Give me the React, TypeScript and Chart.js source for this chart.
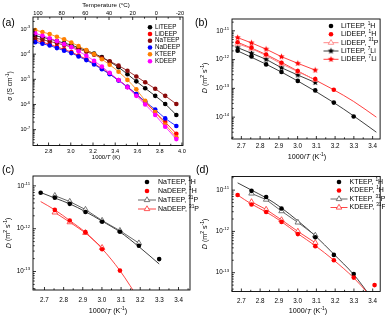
import React, { useEffect, useRef } from "react";
import { Chart, registerables } from "chart.js";

Chart.register(...registerables);

const W = 385;
const H = 319;
const FF = '"Liberation Sans", Arial, Helvetica, sans-serif';

// ---------------- Panel (a): conductivity vs 1000/T ----------------
const aInvT = [2.68, 2.745, 2.81, 2.875, 2.94, 3.005, 3.07, 3.14, 3.21, 3.28, 3.35, 3.43, 3.51, 3.59, 3.67, 3.76, 3.85, 3.95];
const aLiTEEP = [5.4e-4, 4.7e-4, 4.0e-4, 3.3e-4, 2.75e-4, 2.3e-4, 1.8e-4, 1.4e-4, 1.05e-4, 7.6e-5, 5.0e-5, 3.0e-5, 1.6e-5, 8.3e-6, 4.4e-6, 2.2e-6, 1.05e-6, 3.8e-7];
const aLiDEEP = [3.6e-4, 3.0e-4, 2.45e-4, 1.95e-4, 1.55e-4, 1.2e-4, 8.9e-5, 6.3e-5, 4.2e-5, 2.7e-5, 1.66e-5, 9.3e-6, 5.0e-6, 2.5e-6, 1.2e-6, 5.0e-7, 2.0e-7, 6.8e-8];
const aNaTEEP = [4.3e-4, 3.8e-4, 3.2e-4, 2.75e-4, 2.3e-4, 1.95e-4, 1.6e-4, 1.26e-4, 9.5e-5, 7.2e-5, 5.2e-5, 3.5e-5, 2.2e-5, 1.3e-5, 7.6e-6, 4.2e-6, 2.2e-6, 1.05e-6];
const aNaDEEP = [3.0e-4, 2.6e-4, 2.2e-4, 1.74e-4, 1.38e-4, 1.1e-4, 8.1e-5, 5.8e-5, 3.9e-5, 2.5e-5, 1.6e-5, 8.9e-6, 5.0e-6, 2.6e-6, 1.3e-6, 6.3e-7, 2.8e-7, 1.4e-7];
const aKTEEP = [9.1e-4, 7.6e-4, 6.3e-4, 4.9e-4, 3.9e-4, 2.9e-4, 2.1e-4, 1.45e-4, 1.0e-4, 6.3e-5, 3.8e-5, 2.0e-5, 9.5e-6, 4.0e-6, 1.4e-6, 5.0e-7, 1.6e-7, 5.0e-8];
const aKDEEP = [6.8e-4, 5.4e-4, 4.3e-4, 3.3e-4, 2.5e-4, 1.9e-4, 1.3e-4, 8.7e-5, 5.4e-5, 3.2e-5, 1.8e-5, 9.3e-6, 4.8e-6, 2.2e-6, 1.0e-6, 3.8e-7, 1.3e-7, 4.2e-8];
const aXTicks = [2.8, 3.0, 3.2, 3.4, 3.6, 3.8, 4.0];
const aXMinor = [2.7, 2.9, 3.1, 3.3, 3.5, 3.7, 3.9];
const aTempTicks = [100, 80, 60, 40, 20, 0, -20];
const aTempMinor = [90, 70, 50, 30, 10, -10];
const aYExps = [-3, -4, -5, -6, -7];
const aXRange = [2.66, 4.01];
const aTRange = [-22.5, 104.2];
const aYRange = [2.34e-8, 3.0e-3];

// ---------------- Panel (b): Li diffusion ----------------
const bInvT = [2.68, 2.754, 2.832, 2.914, 3.001, 3.094, 3.193, 3.299];
const bLiTEEP_1H = [2.04e-12, 1.29e-12, 6.8e-13, 3.7e-13, 1.82e-13, 8.5e-14, 3.2e-14, 1.05e-14];
const bLiDEEP_1H = [4.0e-12, 2.6e-12, 1.5e-12, 7.8e-13, 4.0e-13, 2.1e-13, 8.9e-14];
const bLiDEEP_31P = [3.55e-12, 2.4e-12, 1.38e-12, 7.1e-13, 3.8e-13, 2.0e-13];
const bLiTEEP_7Li = [2.6e-12, 1.66e-12, 1.02e-12, 5.2e-13, 2.9e-13, 1.6e-13];
const bLiDEEP_7Li = [5.8e-12, 3.8e-12, 2.3e-12, 1.26e-12, 7.4e-13, 4.3e-13];
const bFitX = [2.68, 2.832, 3.001, 3.193, 3.299, 3.42];
const bFitLiTEEP = [2.0e-12, 6.9e-13, 1.8e-13, 3.2e-14, 1.1e-14, 3.0e-15];
const bFitLiDEEP = [4.0e-12, 1.5e-12, 4.0e-13, 8.9e-14, 3.5e-14, 1.0e-14];
const bYExps = [-11, -12, -13, -14];
const bXRange = [2.65, 3.44];
const bYRange = [1.74e-15, 2.57e-11];

// ---------------- Panel (c): Na diffusion ----------------
const cInvT = [2.68, 2.754, 2.832, 2.914, 3.001, 3.094, 3.193, 3.299];
const cNaTEEP_1H = [6.9e-12, 5.3e-12, 3.8e-12, 2.45e-12, 1.45e-12, 8.5e-13, 4.0e-13, 1.95e-13];
const cNaDEEP_1H = [2.75e-12, 1.55e-12, 8.3e-13, 3.3e-13, 1.05e-13];
const cNaTEEP_31P = [5.9e-12, 4.3e-12, 2.8e-12, 1.55e-12, 9.0e-13, 4.6e-13];
const cNaDEEP_31P = [2.4e-12, 1.42e-12, 8.0e-13, 3.6e-13];
const cFitNaTEEP = [7.0e-12, 5.2e-12, 3.8e-12, 2.5e-12, 1.5e-12, 8.4e-13, 3.8e-13, 1.5e-13];
const cFitRedX = [2.68, 2.754, 2.832, 2.914, 3.001, 3.094, 3.2];
const cFitNaDEEP = [4.3e-12, 2.75e-12, 1.55e-12, 8.2e-13, 3.4e-13, 1.05e-13, 2.0e-14];
const cYExps = [-11, -12, -13];
const cXRange = [2.64, 3.46];
const cYRange = [3.7e-14, 1.7e-11];

// ---------------- Panel (d): K diffusion ----------------
const dInvT = [2.68, 2.754, 2.832, 2.914, 3.001, 3.094, 3.193, 3.299, 3.41];
const dKTEEP_1H_X = [2.754, 2.832, 2.914, 3.094, 3.193, 3.299];
const dKTEEP_1H = [9.6e-12, 6.8e-12, 3.6e-12, 7.2e-13, 2.7e-13, 9.3e-14];
const dKDEEP_1H = [7.6e-12, 4.5e-12, 2.95e-12, 1.7e-12, 8.6e-13, 4.4e-13, 2.0e-13, 7.6e-14, 5.0e-14];
const dKTEEP_31P = [8.3e-12, 5.9e-12, 3.1e-12, 1.65e-12, 8.0e-13];
const dKDEEP_31P = [5.2e-12, 3.4e-12, 1.9e-12, 1.0e-12, 5.3e-13];
const dFitX = [2.68, 2.754, 2.832, 2.914, 3.001, 3.094, 3.193, 3.299, 3.38];
const dFitKTEEP = [1.5e-11, 1.0e-11, 6.5e-12, 3.7e-12, 1.8e-12, 7.8e-13, 2.8e-13, 9.0e-14, 3.0e-14];
const dFitKDEEP = [7.6e-12, 4.6e-12, 2.95e-12, 1.72e-12, 8.8e-13, 4.5e-13, 2.0e-13, 7.5e-14, 3.0e-14];
const dYExps = [-11, -12, -13];
const dXRange = [2.65, 3.44];
const dYRange = [3.5e-14, 2.14e-11];

const bcdXTicks = [2.7, 2.8, 2.9, 3.0, 3.1, 3.2, 3.3, 3.4];
const bcdXMinor = [2.65, 2.75, 2.85, 2.95, 3.05, 3.15, 3.25, 3.35, 3.45];

// ---------------- text helpers ----------------
type Part = { t: string; sup?: boolean; it?: boolean };
const P = (t: string): Part => ({ t });
const S = (t: string): Part => ({ t, sup: true });
const I = (t: string): Part => ({ t, it: true });

function setFont(ctx: any, size: number, it?: boolean) {
  ctx.font = `${it ? "italic " : ""}${size}px ${FF}`;
}
function partsWidth(ctx: any, parts: Part[], size: number) {
  let w = 0;
  for (const p of parts) {
    setFont(ctx, p.sup ? size * 0.68 : size, p.it);
    w += ctx.measureText(p.t).width;
  }
  return w;
}
function drawText(ctx: any, parts: Part[] | string, x: number, y: number, size: number, align = "left", rot = 0) {
  const ps: Part[] = typeof parts === "string" ? [P(parts)] : parts;
  ctx.save();
  ctx.translate(x, y);
  if (rot) ctx.rotate(rot);
  ctx.fillStyle = "#000";
  ctx.textBaseline = "middle";
  ctx.textAlign = "left";
  const w = partsWidth(ctx, ps, size);
  let cx = align === "left" ? 0 : align === "center" ? -w / 2 : -w;
  for (const p of ps) {
    const s = p.sup ? size * 0.68 : size;
    setFont(ctx, s, p.it);
    ctx.fillText(p.t, cx, p.sup ? -size * 0.36 : 0);
    cx += ctx.measureText(p.t).width;
  }
  ctx.restore();
}

function frame(ctx: any, a: any) {
  ctx.save();
  ctx.strokeStyle = "#000";
  ctx.lineWidth = 0.9;
  ctx.strokeRect(a.left, a.top, a.right - a.left, a.bottom - a.top);
  ctx.restore();
}

function logMinors(min: number, max: number) {
  const out: number[] = [];
  for (let e = Math.floor(Math.log10(min)); e <= Math.ceil(Math.log10(max)); e++) {
    for (let m = 2; m <= 9; m++) {
      const v = m * Math.pow(10, e);
      if (v > min && v < max) out.push(v);
    }
  }
  return out;
}

function ticksX(ctx: any, scale: any, y0: number, dir: number, majors: number[], minors: number[]) {
  ctx.save();
  ctx.strokeStyle = "#000";
  ctx.lineWidth = 0.8;
  ctx.beginPath();
  for (const v of majors) {
    const x = scale.getPixelForValue(v);
    ctx.moveTo(x, y0);
    ctx.lineTo(x, y0 + dir * 3);
  }
  for (const v of minors) {
    const x = scale.getPixelForValue(v);
    ctx.moveTo(x, y0);
    ctx.lineTo(x, y0 + dir * 1.7);
  }
  ctx.stroke();
  ctx.restore();
}
function ticksY(ctx: any, scale: any, x0: number, dir: number, majors: number[], minors: number[]) {
  ctx.save();
  ctx.strokeStyle = "#000";
  ctx.lineWidth = 0.8;
  ctx.beginPath();
  for (const v of majors) {
    const y = scale.getPixelForValue(v);
    ctx.moveTo(x0, y);
    ctx.lineTo(x0 + dir * 3, y);
  }
  for (const v of minors) {
    const y = scale.getPixelForValue(v);
    ctx.moveTo(x0, y);
    ctx.lineTo(x0 + dir * 1.7, y);
  }
  ctx.stroke();
  ctx.restore();
}

function triPath(ctx: any, x: number, y: number, r: number) {
  ctx.beginPath();
  for (let i = 0; i < 3; i++) {
    const a = -Math.PI / 2 + (i * 2 * Math.PI) / 3;
    const px = x + r * Math.cos(a);
    const py = y + r * Math.sin(a);
    if (i === 0) ctx.moveTo(px, py);
    else ctx.lineTo(px, py);
  }
  ctx.closePath();
}
function starPath(ctx: any, cx: number, cy: number, r: number) {
  ctx.beginPath();
  for (let i = 0; i < 10; i++) {
    const rr = i % 2 === 0 ? r : r * 0.45;
    const a = -Math.PI / 2 + (i * Math.PI) / 5;
    const px = cx + rr * Math.cos(a);
    const py = cy + rr * Math.sin(a);
    if (i === 0) ctx.moveTo(px, py);
    else ctx.lineTo(px, py);
  }
  ctx.closePath();
}
function makeStar(color: string, r: number) {
  const c = document.createElement("canvas");
  const s = Math.ceil(r * 2 + 2);
  c.width = s;
  c.height = s;
  const g = c.getContext("2d")!;
  starPath(g, s / 2, s / 2, r);
  g.fillStyle = color;
  g.fill();
  return c;
}

type LegendItem = { kind: string; color: string; line?: string; star?: any; parts: Part[] };
function drawLegend(ctx: any, items: LegendItem[], ys: number[], mx: number, l0: number, l1: number, tx: number, size: number) {
  items.forEach((it, i) => {
    const y = ys[i];
    ctx.save();
    if (it.line) {
      ctx.strokeStyle = it.line;
      ctx.lineWidth = 0.9;
      ctx.beginPath();
      ctx.moveTo(l0, y);
      ctx.lineTo(l1, y);
      ctx.stroke();
    }
    if (it.kind === "circle") {
      ctx.beginPath();
      ctx.arc(mx, y, 2.3, 0, Math.PI * 2);
      ctx.fillStyle = it.color;
      ctx.fill();
    } else if (it.kind === "triangle") {
      triPath(ctx, mx, y, 3.2);
      ctx.fillStyle = "#fff";
      ctx.fill();
      ctx.strokeStyle = it.color;
      ctx.lineWidth = 0.8;
      ctx.stroke();
    } else if (it.kind === "star" && it.star) {
      ctx.drawImage(it.star, mx - it.star.width / 2, y - it.star.height / 2);
    }
    ctx.restore();
    drawText(ctx, it.parts, tx, y, size, "left");
  });
}

// ---------------- dataset helpers ----------------
function pts(xs: number[], ys: number[]) {
  return ys.map((y, i) => ({ x: xs[i], y }));
}
function dotDS(xs: number[], ys: number[], color: string, line = false) {
  return {
    data: pts(xs, ys),
    pointStyle: "circle",
    pointRadius: 2.3,
    pointBorderWidth: 0,
    pointBackgroundColor: color,
    backgroundColor: color,
    borderColor: color,
    borderWidth: 0.8,
    showLine: line,
    cubicInterpolationMode: "monotone",
  };
}
function fitDS(xs: number[], ys: number[], color: string) {
  return {
    data: pts(xs, ys),
    pointRadius: 0,
    showLine: true,
    borderColor: color,
    backgroundColor: color,
    borderWidth: 0.9,
    cubicInterpolationMode: "monotone",
  };
}
function triDS(xs: number[], ys: number[], color: string, lineColor: string) {
  return {
    data: pts(xs, ys),
    pointStyle: "triangle",
    pointRadius: 3.2,
    pointBorderWidth: 0.8,
    pointBorderColor: color,
    pointBackgroundColor: "#fff",
    borderColor: lineColor,
    backgroundColor: "#fff",
    borderWidth: 0.9,
    showLine: true,
  };
}
function starDS(xs: number[], ys: number[], star: any, lineColor: string) {
  return {
    data: pts(xs, ys),
    pointStyle: star,
    pointRadius: 3,
    borderColor: lineColor,
    backgroundColor: lineColor,
    borderWidth: 0.9,
    showLine: true,
  };
}

function buildChart(canvas: HTMLCanvasElement, area: any, xr: number[], yr: number[], layers: any[], decor: (c: any) => void, extraScales: any = {}) {
  return new Chart(canvas as any, {
    type: "scatter",
    data: { datasets: [...layers].reverse() },
    options: {
      responsive: false,
      animation: false,
      events: [],
      layout: { padding: { left: area.l, top: area.t, right: W - area.r, bottom: H - area.b } },
      scales: {
        x: { type: "linear", min: xr[0], max: xr[1], display: false },
        y: { type: "logarithmic", min: yr[0], max: yr[1], display: false },
        ...extraScales,
      },
      plugins: { legend: { display: false }, tooltip: { enabled: false } },
    } as any,
    plugins: [{ id: "decor", afterDraw: (c: any) => decor(c) }],
  } as any);
}

function yLogAxis(ctx: any, chart: any, exps: number[], yr: number[], size: number) {
  const a = chart.chartArea;
  const sy = chart.scales.y;
  const majors = exps.map((e) => Math.pow(10, e));
  ticksY(ctx, sy, a.left, 1, majors, logMinors(yr[0], yr[1]));
  exps.forEach((e) => {
    drawText(ctx, [P("10"), S(String(e))], a.left - 3, sy.getPixelForValue(Math.pow(10, e)), size, "right");
  });
}
function xLinAxis(ctx: any, chart: any, majors: number[], minors: number[], size: number, labelDy: number) {
  const a = chart.chartArea;
  const sx = chart.scales.x;
  const mins = minors.filter((v) => v >= sx.min && v <= sx.max);
  ticksX(ctx, sx, a.bottom, -1, majors, mins);
  majors.forEach((v) => drawText(ctx, v.toFixed(1), sx.getPixelForValue(v), a.bottom + labelDy, size, "center"));
}

const D_TITLE = [I("D"), P(" (m"), S("2"), P(" s"), S("-1"), P(")")];
const X_TITLE = [P("1000/"), I("T"), P(" (K"), S("-1"), P(")")];

export default function App() {
  const r0 = useRef<HTMLCanvasElement>(null);
  const r1 = useRef<HTMLCanvasElement>(null);
  const r2 = useRef<HTMLCanvasElement>(null);
  const r3 = useRef<HTMLCanvasElement>(null);

  useEffect(() => {
    const charts: any[] = [];
    const RED = "#ff0000";
    const BLACK = "#000000";
    const DARK = "#2a2a2a";
    const PINK = "#ff7a7a";
    const GRAY = "#555555";
    const starBlack = makeStar(BLACK, 3.3);
    const starRed = makeStar(RED, 3.3);

    // ---------- (a) ----------
    const aColors = { LiTEEP: "#000000", LiDEEP: "#ff0000", NaTEEP: "#8b0a0a", NaDEEP: "#0000ff", KTEEP: "#ff8000", KDEEP: "#ff00ff" };
    const aArea = { l: 33, t: 17, r: 183, b: 145.5 };
    charts.push(
      buildChart(
        r0.current!,
        aArea,
        aXRange,
        aYRange,
        [
          dotDS(aInvT, aLiTEEP, aColors.LiTEEP, true),
          dotDS(aInvT, aLiDEEP, aColors.LiDEEP, true),
          dotDS(aInvT, aNaTEEP, aColors.NaTEEP, true),
          dotDS(aInvT, aNaDEEP, aColors.NaDEEP, true),
          dotDS(aInvT, aKTEEP, aColors.KTEEP, true),
          dotDS(aInvT, aKDEEP, aColors.KDEEP, true),
        ],
        (chart: any) => {
          const ctx = chart.ctx;
          const a = chart.chartArea;
          frame(ctx, a);
          xLinAxis(ctx, chart, aXTicks, aXMinor, 5.6, 5.5);
          const st = chart.scales.xTop;
          ticksX(ctx, st, a.top, 1, aTempTicks, aTempMinor);
          aTempTicks.forEach((t) => drawText(ctx, String(t), st.getPixelForValue(t), a.top - 3.8, 5.6, "center"));
          yLogAxis(ctx, chart, aYExps, aYRange, 5.6);
          drawText(ctx, [P("Temperature ("), P("°C)")], 106, 4.8, 6.2, "center");
          drawText(ctx, [P("1000/"), I("T"), P(" (K)")], 106, 157.5, 6.0, "center");
          drawText(ctx, [P("σ (S cm"), S("-1"), P(")")], 10, 86, 6.6, "center", -Math.PI / 2);
          drawText(ctx, "(a)", 2, 23, 10.5, "left");
          const items: LegendItem[] = [
            { kind: "circle", color: aColors.LiTEEP, parts: [P("LiTEEP")] },
            { kind: "circle", color: aColors.LiDEEP, parts: [P("LiDEEP")] },
            { kind: "circle", color: aColors.NaTEEP, parts: [P("NaTEEP")] },
            { kind: "circle", color: aColors.NaDEEP, parts: [P("NaDEEP")] },
            { kind: "circle", color: aColors.KTEEP, parts: [P("KTEEP")] },
            { kind: "circle", color: aColors.KDEEP, parts: [P("KDEEP")] },
          ];
          drawLegend(ctx, items, [27.3, 34, 40.7, 47.5, 54.3, 61.2], 150, 150, 150, 155, 6.3);
        },
        { xTop: { type: "linear", axis: "x", position: "top", min: aTRange[0], max: aTRange[1], reverse: true, display: false } }
      )
    );

    // ---------- (b) ----------
    charts.push(
      buildChart(
        r1.current!,
        { l: 232, t: 19, r: 382, b: 139 },
        bXRange,
        bYRange,
        [
          fitDS(bFitX, bFitLiTEEP, DARK),
          fitDS(bFitX, bFitLiDEEP, "#ff2a2a"),
          starDS(bInvT.slice(0, 6), bLiTEEP_7Li, starBlack, DARK),
          triDS(bInvT.slice(0, 6), bLiDEEP_31P, PINK, PINK),
          starDS(bInvT.slice(0, 6), bLiDEEP_7Li, starRed, "#ff2a2a"),
          dotDS(bInvT, bLiTEEP_1H, BLACK),
          dotDS(bInvT.slice(0, 7), bLiDEEP_1H, RED),
        ],
        (chart: any) => {
          const ctx = chart.ctx;
          frame(ctx, chart.chartArea);
          xLinAxis(ctx, chart, bcdXTicks, bcdXMinor, 6.3, 7);
          yLogAxis(ctx, chart, bYExps, bYRange, 6.3);
          drawText(ctx, X_TITLE, 307, 157, 7.2, "center");
          drawText(ctx, D_TITLE, 205, 78, 7.2, "center", -Math.PI / 2);
          drawText(ctx, "(b)", 195, 23, 10.5, "left");
          const items: LegendItem[] = [
            { kind: "circle", color: BLACK, parts: [P("LiTEEP, "), S("1"), P("H")] },
            { kind: "circle", color: RED, parts: [P("LiDEEP, "), S("1"), P("H")] },
            { kind: "triangle", color: PINK, line: PINK, parts: [P("LiDEEP, "), S("31"), P("P")] },
            { kind: "star", color: BLACK, line: DARK, star: starBlack, parts: [P("LiTEEP, "), S("7"), P("Li")] },
            { kind: "star", color: RED, line: "#ff2a2a", star: starRed, parts: [P("LiDEEP, "), S("7"), P("Li")] },
          ];
          drawLegend(ctx, items, [26, 34.3, 42.7, 51, 59.3], 331, 323.5, 338.5, 341, 7);
        }
      )
    );

    // ---------- (c) ----------
    charts.push(
      buildChart(
        r2.current!,
        { l: 33, t: 176, r: 190, b: 290 },
        cXRange,
        cYRange,
        [
          fitDS(cInvT, cFitNaTEEP, DARK),
          fitDS(cFitRedX, cFitNaDEEP, "#ff3030"),
          triDS(cInvT.slice(1, 7), cNaTEEP_31P, GRAY, GRAY),
          triDS(cInvT.slice(1, 5), cNaDEEP_31P, "#ff3030", "#ff3030"),
          dotDS(cInvT, cNaTEEP_1H, BLACK),
          dotDS(cInvT.slice(1, 6), cNaDEEP_1H, RED),
        ],
        (chart: any) => {
          const ctx = chart.ctx;
          frame(ctx, chart.chartArea);
          xLinAxis(ctx, chart, bcdXTicks, bcdXMinor, 6.3, 10.5);
          yLogAxis(ctx, chart, cYExps, cYRange, 6.3);
          drawText(ctx, X_TITLE, 108, 311.5, 7.2, "center");
          drawText(ctx, D_TITLE, 8.5, 233, 7.2, "center", -Math.PI / 2);
          drawText(ctx, "(c)", 2, 170, 10.5, "left");
          const items: LegendItem[] = [
            { kind: "circle", color: BLACK, parts: [P("NaTEEP, "), S("1"), P("H")] },
            { kind: "circle", color: RED, parts: [P("NaDEEP, "), S("1"), P("H")] },
            { kind: "triangle", color: GRAY, line: GRAY, parts: [P("NaTEEP, "), S("31"), P("P")] },
            { kind: "triangle", color: "#ff3030", line: "#ff3030", parts: [P("NaDEEP, "), S("31"), P("P")] },
          ];
          drawLegend(ctx, items, [182, 191, 200, 209], 147, 138, 156, 158, 7);
        }
      )
    );

    // ---------- (d) ----------
    charts.push(
      buildChart(
        r3.current!,
        { l: 232, t: 176.5, r: 383, b: 291.5 },
        dXRange,
        dYRange,
        [
          fitDS(dFitX, dFitKTEEP, DARK),
          fitDS(dFitX, dFitKDEEP, "#ff3030"),
          triDS(dInvT.slice(1, 6), dKTEEP_31P, GRAY, GRAY),
          triDS(dInvT.slice(1, 6), dKDEEP_31P, "#ff3030", "#ff3030"),
          dotDS(dKTEEP_1H_X, dKTEEP_1H, BLACK),
          dotDS(dInvT, dKDEEP_1H, RED),
        ],
        (chart: any) => {
          const ctx = chart.ctx;
          frame(ctx, chart.chartArea);
          xLinAxis(ctx, chart, bcdXTicks, bcdXMinor, 6.3, 10);
          yLogAxis(ctx, chart, dYExps, dYRange, 6.3);
          drawText(ctx, X_TITLE, 308, 311.5, 7.2, "center");
          drawText(ctx, D_TITLE, 205, 234, 7.2, "center", -Math.PI / 2);
          drawText(ctx, "(d)", 196, 170, 10.5, "left");
          const items: LegendItem[] = [
            { kind: "circle", color: BLACK, parts: [P("KTEEP, "), S("1"), P("H")] },
            { kind: "circle", color: RED, parts: [P("KDEEP, "), S("1"), P("H")] },
            { kind: "triangle", color: GRAY, line: GRAY, parts: [P("KTEEP, "), S("31"), P("P")] },
            { kind: "triangle", color: "#ff3030", line: "#ff3030", parts: [P("KDEEP, "), S("31"), P("P")] },
          ];
          drawLegend(ctx, items, [182, 190.5, 199, 207.5], 339, 330.5, 347.5, 349.5, 7);
        }
      )
    );

    return () => charts.forEach((c) => c.destroy());
  }, []);

  const cs: any = { position: "absolute", left: 0, top: 0, width: W, height: H };
  return (
    <div style={{ position: "absolute", left: 0, top: 0, width: W, height: H, background: "#fff", overflow: "hidden" }}>
      <canvas ref={r0} width={W} height={H} style={cs} />
      <canvas ref={r1} width={W} height={H} style={cs} />
      <canvas ref={r2} width={W} height={H} style={cs} />
      <canvas ref={r3} width={W} height={H} style={cs} />
    </div>
  );
}
